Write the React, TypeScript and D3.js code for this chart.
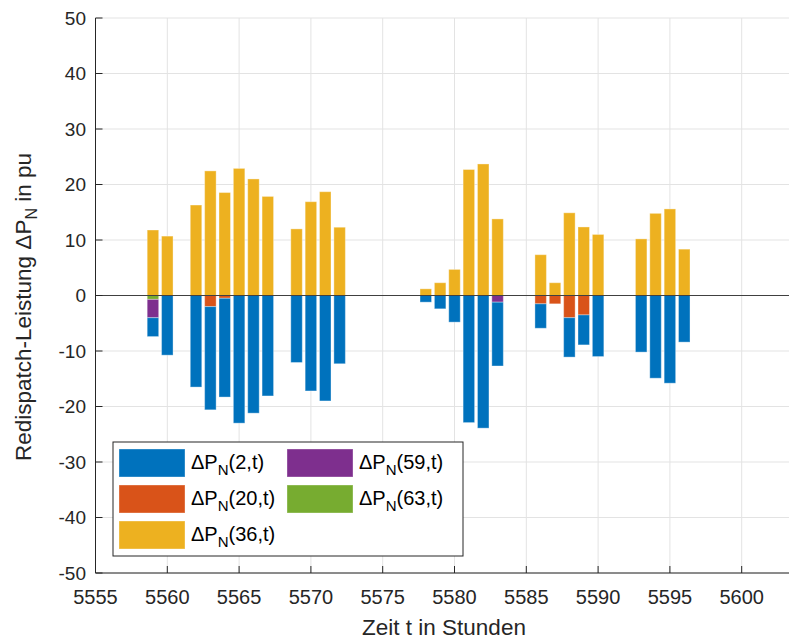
import React from "react";
import * as d3 from "d3";

const hours = [5559, 5560, 5562, 5563, 5564, 5565, 5566, 5567, 5569, 5570, 5571, 5572,
  5578, 5579, 5580, 5581, 5582, 5583, 5586, 5587, 5588, 5589, 5590, 5593, 5594, 5595, 5596];
// ΔP_N(2,t)
const p2 = [-3.4, -10.75, -16.5, -18.6, -17.8, -23.0, -21.2, -18.1, -12.07, -17.2, -19.0, -12.3,
  -1.2, -2.4, -4.8, -22.9, -23.9, -11.5, -4.4, 0, -7.1, -5.4, -11.0, -10.2, -14.9, -15.8, -8.4];
// ΔP_N(20,t)
const p20 = [0, 0, 0, -2.0, -0.5, 0, 0, 0, 0, 0, 0, 0,
  0, 0, 0, 0, 0, 0, -1.5, -1.5, -4.0, -3.5, 0, 0, 0, 0, 0];
// ΔP_N(36,t)
const p36 = [11.8, 10.7, 16.3, 22.45, 18.55, 22.9, 21.0, 17.85, 12.0, 16.9, 18.7, 12.3,
  1.2, 2.3, 4.7, 22.7, 23.7, 13.8, 7.35, 2.3, 14.9, 12.35, 11.0, 10.2, 14.8, 15.6, 8.35];
// ΔP_N(59,t)
const p59 = [-3.3, 0, 0, 0, 0, 0, 0, 0, 0, 0, 0, 0,
  0, 0, 0, 0, 0, -1.2, 0, 0, 0, 0, 0, 0, 0, 0, 0];
// ΔP_N(63,t)
const p63 = [-0.7, 0, 0, 0, 0, 0, 0, 0, 0, 0, 0, 0,
  0, 0, 0, 0, 0, 0, 0, 0, 0, 0, 0, 0, 0, 0, 0];

const seriesNames = ["2", "20", "36", "59", "63"];
const colors = ["#0072BD", "#D95319", "#EDB120", "#7E2F8E", "#77AC30"];
const xTicks = [5555, 5560, 5565, 5570, 5575, 5580, 5585, 5590, 5595, 5600];
const yTicks = [-50, -40, -30, -20, -10, 0, 10, 20, 30, 40, 50];

const W = 789, H = 640;
const left = 95.5, top = 18, bottom = 573;
const pxPerUnit = 14.36;

export default function App() {
  const x = d3.scaleLinear().domain([5555, 5555 + (W - left) / pxPerUnit]).range([left, W]);
  const y = d3.scaleLinear().domain([-50, 50]).range([bottom, top]);
  const bw = 0.8 * pxPerUnit;

  const rows = hours.map((h, i) => ({ h, s2: p2[i], s20: p20[i], s36: p36[i], s59: p59[i], s63: p63[i] }));
  const keys = ["s63", "s59", "s20", "s36", "s2"];
  const keyColor: Record<string, string> = { s2: colors[0], s20: colors[1], s36: colors[2], s59: colors[3], s63: colors[4] };
  const stacked = d3.stack<any>().keys(keys).order(d3.stackOrderNone).offset(d3.stackOffsetDiverging)(rows);

  const font = "Liberation Sans, Arial, Helvetica, sans-serif";
  const legendItems = [
    { i: 0, col: 0, row: 0 },
    { i: 1, col: 0, row: 1 },
    { i: 2, col: 0, row: 2 },
    { i: 3, col: 1, row: 0 },
    { i: 4, col: 1, row: 1 },
  ];
  const lgX = 113, lgY = 442, lgW = 350, lgH = 114;
  const swX = [119, 287];
  const rowY = [449, 485, 521];

  return (
    <svg width={W} height={H} style={{ position: "absolute", left: 0, top: 0, background: "#fff" }} fontFamily={font}>
      {/* grid */}
      {yTicks.map((t) => (
        <line key={"gy" + t} x1={left} x2={W} y1={y(t)} y2={y(t)} stroke="#e3e3e3" strokeWidth={1} />
      ))}
      {xTicks.map((t) => (
        <line key={"gx" + t} x1={x(t)} x2={x(t)} y1={top} y2={bottom} stroke="#e3e3e3" strokeWidth={1} />
      ))}
      {/* bars */}
      {stacked.map((layer) => (
        <g key={layer.key} fill={keyColor[layer.key]}>
          {layer.map((d, j) => {
            const y0 = y(d[0]), y1 = y(d[1]);
            const hgt = Math.abs(y0 - y1);
            if (hgt < 0.01) return null;
            return (
              <rect key={j} x={x(d.data.h) - bw / 2} width={bw} y={Math.min(y0, y1)} height={hgt}
                stroke="#ffffff" strokeOpacity={0.35} strokeWidth={1} />
            );
          })}
        </g>
      ))}
      {/* zero line */}
      <line x1={left} x2={W} y1={y(0)} y2={y(0)} stroke="#404040" strokeWidth={1.2} />
      {/* axes */}
      <line x1={left} x2={left} y1={top} y2={bottom} stroke="#262626" strokeWidth={1} />
      <line x1={left} x2={W} y1={bottom} y2={bottom} stroke="#262626" strokeWidth={1} />
      {yTicks.map((t) => (
        <g key={"ty" + t}>
          <line x1={left} x2={left + 7} y1={y(t)} y2={y(t)} stroke="#262626" />
          <text x={86} y={y(t)} dy="0.35em" textAnchor="end" fontSize={19} fill="#262626">{t}</text>
        </g>
      ))}
      {xTicks.map((t) => (
        <g key={"tx" + t}>
          <line x1={x(t)} x2={x(t)} y1={bottom} y2={bottom - 7} stroke="#262626" />
          <text x={x(t)} y={604} textAnchor="middle" fontSize={20} fill="#262626">{t}</text>
        </g>
      ))}
      {/* axis labels */}
      <text x={444} y={635} textAnchor="middle" fontSize={22.5} fill="#262626">Zeit t in Stunden</text>
      <text transform={`translate(31,${307}) rotate(-90)`} textAnchor="middle" fontSize={22.5} fill="#262626">
        Redispatch-Leistung ΔP<tspan fontSize={16} dy={6}>N</tspan><tspan dy={-6}> in pu</tspan>
      </text>
      {/* legend */}
      <rect x={lgX} y={lgY} width={lgW} height={lgH} fill="#fff" stroke="#262626" strokeWidth={1} />
      {legendItems.map(({ i, col, row }) => (
        <g key={"lg" + i}>
          <rect x={swX[col]} y={rowY[row]} width={66} height={28} fill={colors[i]} stroke="#ffffff" strokeOpacity={0.35} />
          <text x={swX[col] + 72} y={rowY[row] + 20} fontSize={20} fill="#000">
            ΔP<tspan fontSize={15} dy={6}>N</tspan><tspan dy={-6}>({seriesNames[i]},t)</tspan>
          </text>
        </g>
      ))}
    </svg>
  );
}
